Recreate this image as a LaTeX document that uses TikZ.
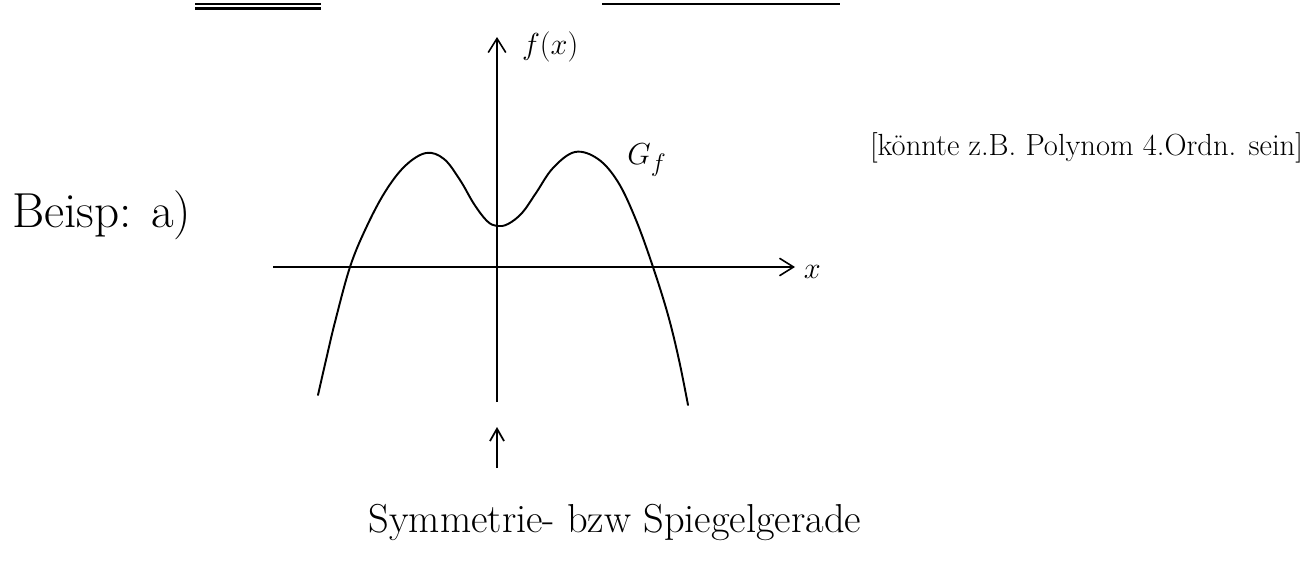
\documentclass[tikz,border=0pt]{standalone}
\usepackage{tikz}
\usetikzlibrary{arrows.meta}

\begin{document}
\begin{tikzpicture}[x=0.02cm,y=-0.02cm,every node/.style={outer sep=0pt,inner sep=0pt}]
	
	
	\tikzstyle{axis}=[line width=0.9pt,-{Straight Barb[length=8pt,width=10pt,line width=0.9pt]}]
	
	\tikzstyle{graph}=[line width=1.1pt,line join=round,line cap=round]
	
	\tikzstyle{pointer}=[line width=1pt,-{Straight Barb[length=7pt,width=8pt,line width=1pt]}]
	
	\tikzstyle{hand}=[font=\fontsize{23}{27}\selectfont]

	\useasboundingbox (0,0) rectangle (1311,561);

	% rests of the underlines above
	\draw [line width=1.2pt] (195,4) -- (321,4);
	\draw [line width=1.2pt] (195,8.5) -- (321,8.5);
	\draw [line width=0.9pt] (602,4) -- (840,4);

	
	\coordinate (xstart) at (273,267);
	\coordinate (xend) at (795,267);
	\coordinate (ystart) at (497,402);
	\coordinate (yend) at (497,37);
	\draw [axis] (xstart) -- (xend);
	\draw [axis] (ystart) -- (yend);
	\node (xlab) at (xend) [anchor=west,xshift=5pt,yshift=-3pt,font=\fontsize{17}{20}\selectfont] {$x$};
	\node (fx) at (522,47) [anchor=west,font=\fontsize{16}{20}\selectfont] {$f(x)$};

	\draw [graph] plot[smooth,tension=0.6] coordinates {(318,395) (326,360) (335,322) (350,267) (366,228) (385,192) (405,166) (426,153) (444,159) (460,180) (474,204) (487,221) (497,226) (508,224) (522,213) (536,193) (553,168) (575,152) (598,159) (618,182) (636,220) (653,267) (668,315) (679,360) (688,405)};
	\node (Gf) at (647,160) [font=\fontsize{19}{23}\selectfont] {$G_f$};

	
	\node (beisp) at (12,227) [anchor=base west,font=\fontsize{28}{32}\selectfont] {Beisp: a)};
	\node (note) at (870,155) [anchor=base west,font=\fontsize{17.4}{21}\selectfont] {[könnte z.B. Polynom 4.Ordn. sein]};
	
	\coordinate (ptip) at (497,427);
	\coordinate (ptail) at (497,468);
	\draw [pointer] (ptail) -- (ptip);
	\node (symm) at (615,532) [anchor=base,hand] {Symmetrie- bzw Spiegelgerade};
	
\end{tikzpicture}
\end{document}
